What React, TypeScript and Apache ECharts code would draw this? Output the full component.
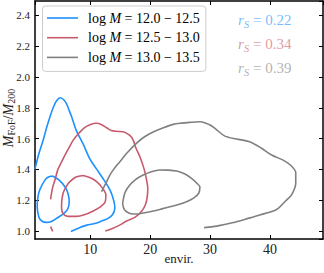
import React, { useEffect, useRef } from "react";
import * as echarts from "echarts";

// ---- data ----
const legendNames = ["m1", "m2", "m3"];
const legendRanges = ["12.0 − 12.5", "12.5 − 13.0", "13.0 − 13.5"];
const lineColors = ["#1E90FF", "#C85A6E", "#808080"];
const rsValues = ["0.22", "0.34", "0.39"];
const rsColors = ["rgba(30,144,255,0.62)", "rgba(200,90,110,0.62)", "rgba(128,128,128,0.62)"];
const xTitle = "envir.";

const blueOuter = [
  [0.75, 1.40], [1.4, 1.50], [2.14, 1.59], [2.7, 1.67], [3.26, 1.74], [3.8, 1.80],
  [4.37, 1.845], [5.0, 1.865], [5.6, 1.85], [6.04, 1.825], [6.5, 1.78], [6.9, 1.74],
  [7.7, 1.65], [8.8, 1.565], [9.9, 1.47], [11.0, 1.405], [12.3, 1.33], [13.3, 1.265],
  [13.9, 1.2], [14.1, 1.15], [13.7, 1.105], [12.9, 1.08], [12.1, 1.068], [10.9, 1.05],
  [9.4, 1.038], [8.0, 1.018], [6.76, 0.997],
];
const blueInner = [
  [3.7, 1.357], [4.8, 1.33], [5.76, 1.287], [6.3, 1.24], [6.48, 1.19], [6.2, 1.14],
  [5.6, 1.115], [4.37, 1.082], [3.4, 1.06], [2.7, 1.056], [1.9, 1.065], [1.47, 1.085],
  [1.2, 1.13], [1.14, 1.17], [1.3, 1.23], [1.6, 1.27], [2.42, 1.33], [3.0, 1.35], [3.7, 1.357],
];
const redOuter = [
  [3.37, 1.206], [3.7, 1.28], [4.09, 1.33], [4.6, 1.40], [5.48, 1.47], [6.3, 1.53],
  [7.15, 1.59], [7.98, 1.63], [9.0, 1.67], [9.93, 1.69], [11.05, 1.699], [11.9, 1.69],
  [12.72, 1.67], [13.5, 1.652], [14.4, 1.647], [15.5, 1.644], [16.6, 1.62], [17.16, 1.59],
  [17.6, 1.54], [18.3, 1.48], [19.0, 1.40], [19.4, 1.33], [19.6, 1.28], [19.5, 1.22],
  [19.2, 1.17], [18.6, 1.13], [17.5, 1.09], [16.06, 1.065], [14.9, 1.038], [13.6, 1.015],
  [12.5, 1.0],
];
const redInner = [
  [8.81, 1.36], [10.0, 1.345], [11.05, 1.32], [12.0, 1.28], [12.6, 1.235], [12.5, 1.19],
  [11.8, 1.16], [10.5, 1.13], [9.0, 1.105], [7.7, 1.095], [6.3, 1.095], [5.5, 1.11],
  [5.2, 1.15], [5.25, 1.2], [5.5, 1.25], [6.0, 1.29], [6.6, 1.32], [7.6, 1.35], [8.81, 1.36],
];
const redStub = [[3.37, 1.028], [3.72, 0.998]];
const grayOuter = [
  [11.88, 1.255], [12.6, 1.31], [13.27, 1.363], [13.9, 1.40], [14.94, 1.45], [16.2, 1.51],
  [17.7, 1.569], [19.0, 1.61], [20.5, 1.642], [22.2, 1.67], [23.84, 1.692], [25.2, 1.70],
  [26.6, 1.705], [28.3, 1.709], [29.3, 1.70], [30.0, 1.688], [31.0, 1.66], [32.47, 1.616],
  [34.4, 1.597], [36.6, 1.58], [38.6, 1.537], [40.27, 1.493], [42.2, 1.46], [43.5, 1.425],
  [44.3, 1.38], [44.3, 1.31], [43.6, 1.235], [42.6, 1.195], [41.1, 1.14], [38.3, 1.104],
  [36.0, 1.078], [33.9, 1.055], [31.5, 1.035], [29.0, 1.022],
];
const grayInner = [
  [15.4, 1.18], [15.8, 1.25], [16.6, 1.298], [17.6, 1.335], [18.83, 1.363], [20.2, 1.385],
  [21.6, 1.396], [23.0, 1.395], [24.4, 1.389], [25.8, 1.37], [26.9, 1.342], [27.8, 1.31],
  [28.3, 1.285], [28.1, 1.245], [27.3, 1.215], [26.07, 1.19], [24.6, 1.17], [23.3, 1.158],
  [21.6, 1.14], [19.95, 1.125], [18.6, 1.115], [17.73, 1.11], [16.8, 1.112], [16.06, 1.125],
  [15.6, 1.145], [15.4, 1.18],
];
const curveGroups = [
  [blueOuter, blueInner],
  [redOuter, redInner, redStub],
  [grayOuter, grayInner],
];

const xMin = 0.77, xMax = 48.85, xStep = 10;
const yMin = 0.948, yMax = 2.493, yStep = 0.2;
const yTickLabels = ["1.0", "1.2", "1.4", "1.6", "1.8", "2.0", "2.2", "2.4"];

const FONT = "Liberation Serif";

export default function App() {
  const ref = useRef<HTMLDivElement>(null);
  useEffect(() => {
    if (!ref.current) return;
    const chart = echarts.init(ref.current, null, { renderer: "svg" });

    const series: any[] = [];
    curveGroups.forEach((group, gi) => {
      group.forEach((pts, ci) => {
        series.push({
          type: "line",
          name: ci === 0 ? legendNames[gi] : legendNames[gi] + "_" + ci,
          data: pts,
          smooth: 0.3,
          symbol: "none",
          showSymbol: false,
          lineStyle: { color: lineColors[gi], width: 1.6 },
          itemStyle: { color: lineColors[gi] },
          xAxisIndex: 0,
          yAxisIndex: 0,
          silent: true,
        });
      });
    });

    const isMult = (v: number, s: number) => Math.abs(v / s - Math.round(v / s)) < 1e-6;

    const axisCommon = {
      axisLine: { show: true, onZero: false, lineStyle: { color: "#000", width: 1.5 } },
      axisTick: { show: true, inside: true, length: 4, lineStyle: { color: "#000", width: 1 } },
      splitLine: { show: false },
    };

    const graphics: any[] = rsValues.map((v, i) => ({
      type: "text",
      left: 238,
      top: 12 + i * 24,
      style: {
        text: `{i|r}{s|S}{n| = ${v}}`,
        rich: {
          i: { fontFamily: FONT, fontStyle: "italic", fontSize: 15, fill: rsColors[i], lineHeight: 19 },
          s: { fontFamily: FONT, fontStyle: "italic", fontSize: 11, fill: rsColors[i], verticalAlign: "bottom", lineHeight: 19 },
          n: { fontFamily: FONT, fontSize: 15, fill: rsColors[i], lineHeight: 19 },
        },
      },
    }));

    // axis titles
    graphics.push({
      type: "text",
      x: 8,
      y: 118,
      rotation: Math.PI / 2,
      style: {
        text: "{i|M}{s|FoF}{n|/}{i|M}{s|200}",
        align: "center",
        verticalAlign: "middle",
        textAlign: "center",
        textVerticalAlign: "middle",
        fill: "#222",
        rich: {
          i: { fontFamily: FONT, fontStyle: "italic", fontSize: 14, fill: "#222", lineHeight: 16 },
          s: { fontFamily: FONT, fontSize: 10, fill: "#222", verticalAlign: "bottom", lineHeight: 16 },
          n: { fontFamily: FONT, fontSize: 14, fill: "#222", lineHeight: 16 },
        },
      },
    });
    graphics.push({
      type: "text",
      x: 179,
      y: 258.5,
      style: {
        text: xTitle,
        align: "center",
        verticalAlign: "middle",
        textAlign: "center",
        textVerticalAlign: "middle",
        fontFamily: FONT,
        fontSize: 13,
        fill: "#222",
      },
    });

    chart.setOption({
      animation: false,
      grid: { left: 35, right: 1, top: 1, bottom: 34, containLabel: false, outerBoundsMode: "none" },
      legend: {
        show: true,
        data: legendNames.map((n) => ({ name: n, icon: "rect" })),
        orient: "vertical",
        left: 42.5,
        top: 6,
        itemWidth: 31,
        itemHeight: 1.6,
        itemGap: 5.7,
        padding: [5, 6, 7, 4.5],
        borderColor: "#cccccc",
        borderWidth: 1,
        borderRadius: 3,
        backgroundColor: "rgba(255,255,255,0.8)",
        selectedMode: false,
        formatter: (name: string) => {
          const idx = legendNames.indexOf(name);
          return `log {i|M} = ${legendRanges[idx]}`;
        },
        textStyle: {
          fontFamily: FONT,
          fontSize: 14,
          color: "#000",
          lineHeight: 14,
          padding: [0, 0, 0, 5],
          rich: {
            i: { fontFamily: FONT, fontStyle: "italic", fontSize: 14, color: "#000" },
          },
        },
      },
      xAxis: [
        {
          type: "value",
          min: xMin,
          max: xMax,
          minInterval: xStep,
          maxInterval: xStep,
          position: "bottom",
          ...axisCommon,
          axisLabel: {
            show: true,
            fontFamily: FONT,
            fontSize: 14,
            color: "#222",
            margin: 3,
            showMinLabel: false,
            showMaxLabel: false,
            formatter: (v: number) => (isMult(v, xStep) ? String(Math.round(v)) : ""),
          },
        },
        {
          type: "value",
          min: xMin,
          max: xMax,
          minInterval: xStep,
          maxInterval: xStep,
          position: "top",
          ...axisCommon,
          axisLabel: { show: false },
        },
      ],
      yAxis: [
        {
          type: "value",
          min: yMin,
          max: yMax,
          minInterval: yStep,
          maxInterval: yStep,
          position: "left",
          ...axisCommon,
          axisLabel: {
            show: true,
            fontFamily: FONT,
            fontSize: 11,
            color: "#222",
            margin: 5,
            showMinLabel: false,
            showMaxLabel: false,
            hideOverlap: false,
            formatter: (v: number) => {
              if (!isMult(v, yStep)) return "";
              const s = v.toFixed(1);
              return yTickLabels.indexOf(s) >= 0 ? s : "";
            },
          },
        },
        {
          type: "value",
          min: yMin,
          max: yMax,
          minInterval: yStep,
          maxInterval: yStep,
          position: "right",
          ...axisCommon,
          axisLabel: { show: false },
        },
      ],
      graphic: graphics,
      series,
    });

    return () => chart.dispose();
  }, []);

  return (
    <div
      ref={ref}
      style={{ position: "fixed", left: 0, top: 0, width: 324, height: 273, background: "#fff" }}
    />
  );
}
